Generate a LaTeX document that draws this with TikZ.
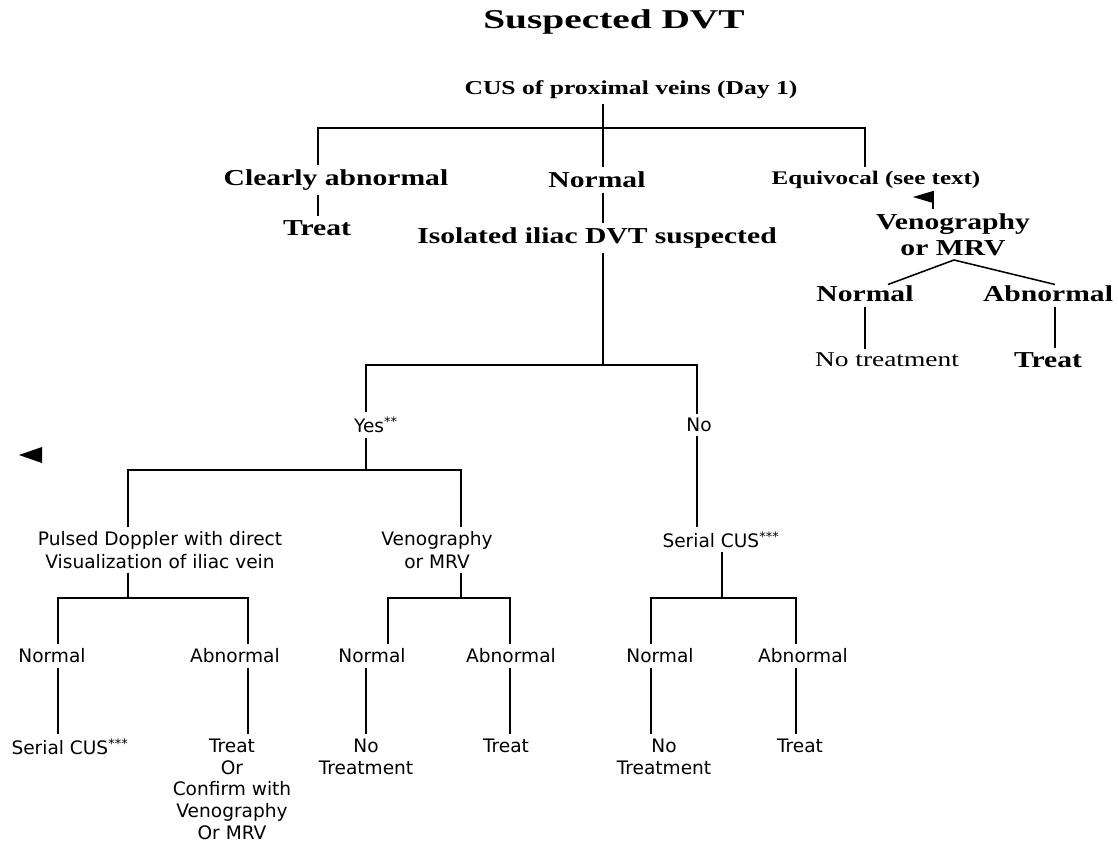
\documentclass[tikz,border=0pt]{standalone}
\usepackage{fontspec}
\setmainfont{Liberation Serif}
\newfontfamily\wideserif[FakeStretch=1.3]{Liberation Serif}
\newfontfamily\titleserif[FakeStretch=1.45]{Liberation Serif}
\newfontfamily\versans{DejaVu Sans}
\usetikzlibrary{calc}

\tikzset{
  titletext/.style={font=\titleserif\bfseries\fontsize{19.3}{22}\selectfont, inner sep=3pt},
  serifbig/.style={font=\wideserif\bfseries\fontsize{16.2}{18.5}\selectfont, inner sep=3pt, align=center},
  serifmid/.style={font=\wideserif\bfseries\fontsize{14}{16}\selectfont, inner sep=3pt},
  serifsmall/.style={font=\wideserif\bfseries\fontsize{13.7}{16}\selectfont, inner sep=3pt},
  serifplain/.style={font=\wideserif\fontsize{15}{17}\selectfont, inner sep=3pt},
  sanstext/.style={font=\versans\fontsize{13.2}{16}\selectfont, inner sep=3pt, align=center},
  link/.style={line width=1.3pt}
}

\begin{document}
\begin{tikzpicture}[x=0.025cm, y=-0.025cm]
\path[use as bounding box, fill=white] (0,0) rectangle (1118,844);

% top of the tree
\node[titletext] (title) at (614,22) {Suspected DVT};
\node[serifmid] (cus) at (631,90) {CUS of proximal veins (Day 1)};
\node[serifbig] (clr) at (336,180) {Clearly abnormal};
\node[serifbig] (nrm) at (597,180) {Normal};
\node[serifsmall] (eqv) at (876,180) {Equivocal (see text)};
\node[serifbig] (trt) at (317,228) {Treat};
\node[serifbig] (iso) at (597,238) {Isolated iliac DVT suspected};

\coordinate (jc) at (603,128);
\coordinate (jl) at (318,128);
\coordinate (jr) at (865,128);
\draw[link] (cus.south -| jc) -- (nrm.north -| jc);
\draw[link] (clr.north -| jl) -- (jl) -- (jr) -- (eqv.north -| jr);
\draw[link] (clr.south -| jl) -- (trt.north -| jl);
\draw[link] (nrm.south -| jc) -- (iso.north -| jc);

% equivocal branch
\node[serifbig] (vmr) at (953,235) {Venography\\or MRV};
\node[serifbig] (rnrm) at (865,294) {Normal};
\node[serifbig] (rabn) at (1048,294) {Abnormal};
\node[serifplain] (rnot) at (887,360) {No treatment};
\node[serifbig] (rtrt) at (1048,360) {Treat};

\coordinate (fl) at (933,191);
\coordinate (apex) at (954,260);
\coordinate (rax) at (1055,300);
\fill (fl) -- (913,197) -- (933,203) -- cycle;
\draw[link] (fl) -- (vmr.north -| fl);
\draw[line width=1.1pt] ($(rnrm.north)+(23,3)$) -- (apex) -- ($(rabn.north)+(7,3)$);
\draw[link] (rnrm.south) -- (rnrm.south |- rnot.north);
\draw[link] (rabn.south -| rax) -- (rtrt.north -| rax);

% isolated iliac DVT
\node[sanstext] (yes) at (376,425) {Yes\textsuperscript{**}};
\node[sanstext] (no) at (699,425) {No};
\coordinate (jm) at (603,365);
\coordinate (ya) at (366,365);
\coordinate (na) at (697,365);
\draw[link] (iso.south -| jm) -- (jm);
\draw[link] (yes.north -| ya) -- (ya) -- (na) -- (no.north -| na);

\fill (19,455) -- (42,447) -- (42,463) -- cycle;

\node[sanstext, anchor=north] (pd) at (160,527) {Pulsed Doppler with direct\\Visualization of iliac vein};
\node[sanstext, anchor=north] (ven) at (437,527) {Venography\\or MRV};
\node[sanstext, anchor=north] (scus) at (721,527) {Serial CUS\textsuperscript{***}};
\coordinate (yb) at (366,470);
\coordinate (pb) at (128,470);
\coordinate (vb) at (461,470);
\draw[link] (yes.south -| yb) -- (yb);
\draw[link] (pd.north -| pb) -- (pb) -- (vb) -- (ven.north -| vb);
\draw[link] (no.south -| na) -- (scus.north -| na);

% third row
\node[sanstext] (pdn) at (52,656) {Normal};
\node[sanstext] (pda) at (235,656) {Abnormal};
\node[sanstext] (venn) at (372,656) {Normal};
\node[sanstext] (vena) at (511,656) {Abnormal};
\node[sanstext] (scn) at (660,656) {Normal};
\node[sanstext] (sca) at (803,656) {Abnormal};

\coordinate (pdt) at (128,598);
\coordinate (pdl) at (58,598);
\coordinate (pdr) at (248,598);
\coordinate (vent) at (461,598);
\coordinate (venl) at (388,598);
\coordinate (venr) at (510,598);
\coordinate (sct) at (722,598);
\coordinate (scl) at (651,598);
\coordinate (scr) at (796,598);
\draw[link] (pd.south -| pdt) -- (pdt);
\draw[link] (pdn.north -| pdl) -- (pdl) -- (pdr) -- (pda.north -| pdr);
\draw[link] (ven.south -| vent) -- (vent);
\draw[link] (venn.north -| venl) -- (venl) -- (venr) -- (vena.north -| venr);
\draw[link] (scus.south -| sct) -- (sct);
\draw[link] (scn.north -| scl) -- (scl) -- (scr) -- (sca.north -| scr);

% leaves
\node[sanstext, anchor=north] (pdnl) at (70,734) {Serial CUS\textsuperscript{***}};
\node[sanstext, anchor=north, inner sep=1pt, font=\versans\fontsize{13.2}{15.5}\selectfont] (pdal) at (232,737) {Treat\\Or\\Confirm with\\Venography\\Or MRV};
\node[sanstext, anchor=north] (vennl) at (366,734) {No\\Treatment};
\node[sanstext, anchor=north] (venal) at (506,734) {Treat};
\node[sanstext, anchor=north] (scnl) at (664,734) {No\\Treatment};
\node[sanstext, anchor=north] (scal) at (800,734) {Treat};

\draw[link] (pdn.south -| pdl) -- (pdnl.north -| pdl);
\draw[link] (pda.south -| pdr) -- (pdr |- vennl.north);
\draw[link] (venn.south -| vennl) -- (vennl.north);
\draw[link] (vena.south -| venr) -- (venal.north -| venr);
\draw[link] (scn.south -| scl) -- (scnl.north -| scl);
\draw[link] (sca.south -| scr) -- (scal.north -| scr);
\end{tikzpicture}
\end{document}
